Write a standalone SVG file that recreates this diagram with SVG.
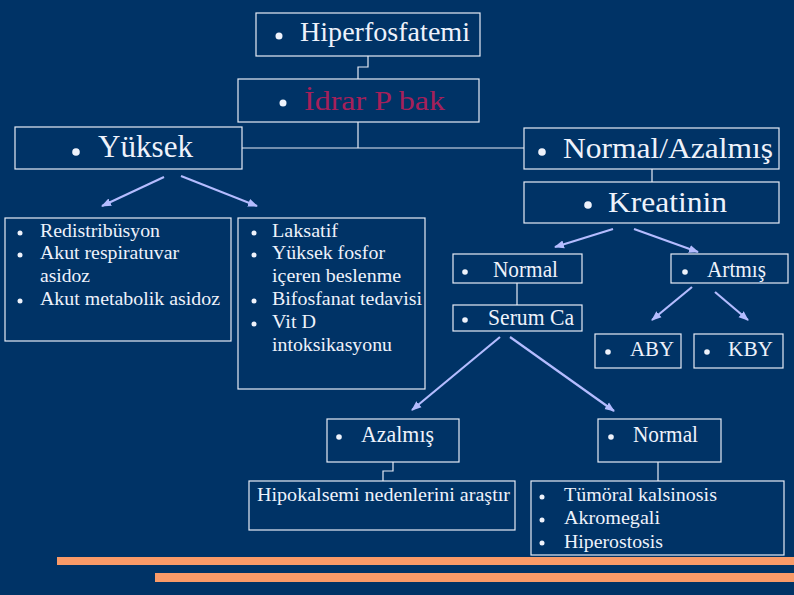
<svg xmlns="http://www.w3.org/2000/svg" width="794" height="595" viewBox="0 0 794 595">
<defs>
<marker id="ah2" viewBox="0 0 10 10" refX="9" refY="5" markerWidth="10" markerHeight="10" orient="auto" markerUnits="userSpaceOnUse">
<path d="M0,1 L10,5 L0,9 z" fill="#b4bcff"/>
</marker>
<style>
.box{fill:none;stroke:#e6ecf6;stroke-width:1.2}
text{font-family:'Liberation Serif','Times New Roman',serif;fill:#eef2fb}
.b{fill:#eef2fb}
.ln{fill:none;stroke:#e6ecf6;stroke-width:1.2}
.ar{fill:none;stroke:#b4bcff;stroke-width:2.2;marker-end:url(#ah2)}
.M{font-size:23px}
.S{font-size:19px}
</style>
</defs>
<rect width="794" height="595" fill="#003366"/>

<g id="connectors">
<path class="ln" d="M368 56 V67 H358 V79"/>
<path class="ln" d="M358 122 V148 M242 148 H524"/>
<path class="ln" d="M652 169 V182"/>
<path class="ln" d="M517 283 V305"/>
<path class="ln" d="M393 462 V471 H383 V481"/>
<path class="ln" d="M658 462 V481"/>
<path class="ar" d="M164 177 L102 206"/>
<path class="ar" d="M181 176 L257 206"/>
<path class="ar" d="M613 229 L555 247"/>
<path class="ar" d="M634 229 L698 252"/>
<path class="ar" d="M692 287 L652 320"/>
<path class="ar" d="M715 292 L748 320"/>
<path class="ar" d="M500 337 L412 410"/>
<path class="ar" d="M510 337 L614 411"/>
</g>

<g id="hiperfosfatemi">
<rect class="box" x="256" y="13" width="224" height="43"/>
<circle class="b" cx="279" cy="36" r="3.5"/>
<text x="300" y="41" font-size="27" textLength="170" lengthAdjust="spacingAndGlyphs">Hiperfosfatemi</text>
</g>

<g id="idrar">
<rect class="box" x="238" y="79" width="241" height="43"/>
<circle class="b" cx="283" cy="103" r="3.5"/>
<text x="304" y="110" font-size="28" style="fill:#a5205a" textLength="141" lengthAdjust="spacingAndGlyphs">İdrar P bak</text>
</g>

<g id="yuksek">
<rect class="box" x="15" y="127" width="227" height="42"/>
<circle class="b" cx="76" cy="152" r="3.8"/>
<text x="98" y="157" font-size="31" textLength="95" lengthAdjust="spacingAndGlyphs">Yüksek</text>
</g>

<g id="normal-azalmis">
<rect class="box" x="524" y="128" width="255" height="41"/>
<circle class="b" cx="542" cy="152" r="3.8"/>
<text x="563" y="158" font-size="30" textLength="210" lengthAdjust="spacingAndGlyphs">Normal/Azalmış</text>
</g>

<g id="kreatinin">
<rect class="box" x="524" y="182" width="255" height="41"/>
<circle class="b" cx="588" cy="205" r="3.8"/>
<text x="608" y="212" font-size="29" textLength="119" lengthAdjust="spacingAndGlyphs">Kreatinin</text>
</g>

<g id="redistribusyon">
<rect class="box" x="5" y="218" width="226" height="123"/>
<circle class="b" cx="20" cy="233" r="2.5"/>
<circle class="b" cx="20" cy="255" r="2.5"/>
<circle class="b" cx="20" cy="301" r="2.5"/>
<text class="S" x="40" y="237" textLength="120" lengthAdjust="spacingAndGlyphs">Redistribüsyon</text>
<text class="S" x="40" y="259" textLength="139" lengthAdjust="spacingAndGlyphs">Akut respiratuvar</text>
<text class="S" x="40" y="282" textLength="50" lengthAdjust="spacingAndGlyphs">asidoz</text>
<text class="S" x="40" y="305" textLength="180" lengthAdjust="spacingAndGlyphs">Akut metabolik asidoz</text>
</g>

<g id="laksatif">
<rect class="box" x="238" y="218" width="187" height="171"/>
<circle class="b" cx="254" cy="233" r="2.5"/>
<circle class="b" cx="254" cy="255" r="2.5"/>
<circle class="b" cx="254" cy="301" r="2.5"/>
<circle class="b" cx="254" cy="324" r="2.5"/>
<text class="S" x="272" y="237" textLength="66" lengthAdjust="spacingAndGlyphs">Laksatif</text>
<text class="S" x="272" y="259" textLength="113" lengthAdjust="spacingAndGlyphs">Yüksek fosfor</text>
<text class="S" x="272" y="282" textLength="129" lengthAdjust="spacingAndGlyphs">içeren beslenme</text>
<text class="S" x="272" y="305" textLength="150" lengthAdjust="spacingAndGlyphs">Bifosfanat tedavisi</text>
<text class="S" x="272" y="328" textLength="44" lengthAdjust="spacingAndGlyphs">Vit D</text>
<text class="S" x="272" y="351" textLength="120" lengthAdjust="spacingAndGlyphs">intoksikasyonu</text>
</g>

<g id="normal">
<rect class="box" x="453" y="254" width="129" height="29"/>
<circle class="b" cx="465" cy="272" r="2.8"/>
<text class="M" x="493" y="277" textLength="65" lengthAdjust="spacingAndGlyphs">Normal</text>
</g>

<g id="artmis">
<rect class="box" x="671" y="254" width="117" height="29"/>
<circle class="b" cx="685" cy="272" r="2.8"/>
<text class="M" x="707" y="277" textLength="59" lengthAdjust="spacingAndGlyphs">Artmış</text>
</g>

<g id="serum-ca">
<rect class="box" x="453" y="305" width="129" height="26"/>
<circle class="b" cx="465" cy="320" r="2.8"/>
<text class="M" x="488" y="325" textLength="86" lengthAdjust="spacingAndGlyphs">Serum Ca</text>
</g>

<g id="aby">
<rect class="box" x="595" y="334" width="86" height="34"/>
<circle class="b" cx="608" cy="352" r="2.8"/>
<text x="630" y="356" font-size="21" textLength="44" lengthAdjust="spacingAndGlyphs">ABY</text>
</g>

<g id="kby">
<rect class="box" x="694" y="334" width="89" height="34"/>
<circle class="b" cx="707" cy="352" r="2.8"/>
<text x="728" y="356" font-size="21" textLength="45" lengthAdjust="spacingAndGlyphs">KBY</text>
</g>

<g id="azalmis">
<rect class="box" x="327" y="419" width="132" height="43"/>
<circle class="b" cx="339" cy="437" r="2.8"/>
<text class="M" x="361" y="442" textLength="73" lengthAdjust="spacingAndGlyphs">Azalmış</text>
</g>

<g id="normal-2">
<rect class="box" x="598" y="419" width="123" height="43"/>
<circle class="b" cx="611" cy="437" r="2.8"/>
<text class="M" x="633" y="442" textLength="65" lengthAdjust="spacingAndGlyphs">Normal</text>
</g>

<g id="hipokalsemi">
<rect class="box" x="249" y="481" width="266" height="49"/>
<text class="S" x="257" y="501" textLength="253" lengthAdjust="spacingAndGlyphs">Hipokalsemi nedenlerini araştır</text>
</g>

<g id="tumoral">
<rect class="box" x="531" y="481" width="253" height="74"/>
<circle class="b" cx="542" cy="497" r="2.5"/>
<circle class="b" cx="542" cy="520" r="2.5"/>
<circle class="b" cx="542" cy="543" r="2.5"/>
<text class="S" x="564" y="501" textLength="153" lengthAdjust="spacingAndGlyphs">Tümöral kalsinosis</text>
<text class="S" x="564" y="524" textLength="96" lengthAdjust="spacingAndGlyphs">Akromegali</text>
<text class="S" x="564" y="548" textLength="99" lengthAdjust="spacingAndGlyphs">Hiperostosis</text>
</g>

<rect x="57" y="557" width="737" height="8" fill="#f99a68"/>
<rect x="155" y="573" width="639" height="9" fill="#f99a68"/>
</svg>
